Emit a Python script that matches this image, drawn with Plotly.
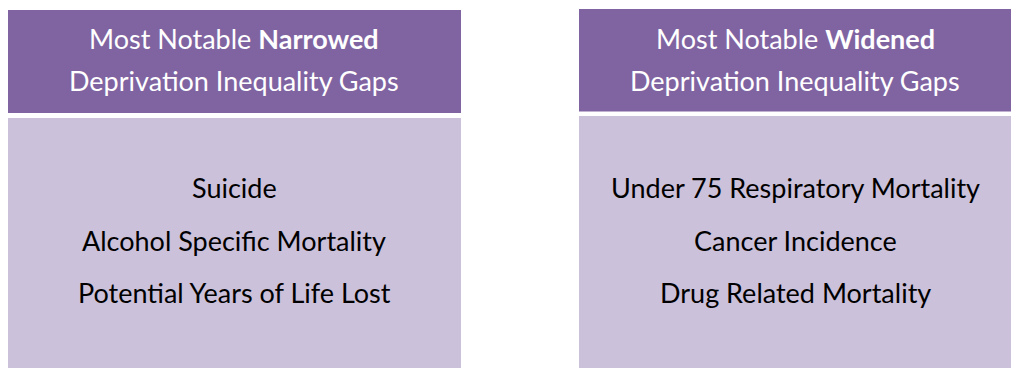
import plotly.graph_objects as go

W, H = 1020, 368
PAGE_MARGIN = 8  # browser default body margin, compensated so coords are page pixels

# Panel content
panel_titles_line1 = ["Most Notable <b>Narrowed</b>", "Most Notable <b>Widened</b>"]
panel_titles_line2 = ["Deprivation Inequality Gaps", "Deprivation Inequality Gaps"]
narrowed_items = ["Suicide", "Alcohol Specific Mortality", "Potential Years of Life Lost"]
widened_items = ["Under 75 Respiratory Mortality", "Cancer Incidence", "Drug Related Mortality"]
panel_items = [narrowed_items, widened_items]

# Layout geometry (page pixels)
panel_x = [(7, 461), (579, 1011)]
header_y = [(10, 113), (9, 111.5)]
body_top = [118, 116]
title_line_y = [38, 80]
item_y = [187, 240, 292]

HEADER_COLOR = "#8064A2"
BODY_COLOR = "#CCC1DA"
FONT = "Lato, 'Open Sans', sans-serif"
FS = 27

fig = go.Figure()
shapes = []
annotations = []
for i in range(2):
    x0, x1 = panel_x[i]
    cx = (x0 + x1) / 2
    shapes.append(dict(type="rect", xref="x", yref="y", x0=x0, x1=x1,
                       y0=header_y[i][0], y1=header_y[i][1],
                       fillcolor=HEADER_COLOR, line=dict(width=0), layer="below"))
    shapes.append(dict(type="rect", xref="x", yref="y", x0=x0, x1=x1,
                       y0=body_top[i], y1=H + 5,
                       fillcolor=BODY_COLOR, line=dict(width=0), layer="below"))
    for t, ty in zip([panel_titles_line1[i], panel_titles_line2[i]], title_line_y):
        annotations.append(dict(x=cx, y=ty, xref="x", yref="y", text=t,
                                showarrow=False, xanchor="center", yanchor="middle",
                                font=dict(family=FONT, size=FS, color="white")))
    for t, ty in zip(panel_items[i], item_y):
        annotations.append(dict(x=cx, y=ty, xref="x", yref="y", text=t,
                                showarrow=False, xanchor="center", yanchor="middle",
                                font=dict(family=FONT, size=FS, color="black")))

fig.update_layout(
    width=W - PAGE_MARGIN, height=H - PAGE_MARGIN,
    margin=dict(l=0, r=0, t=0, b=0),
    paper_bgcolor="white", plot_bgcolor="white",
    xaxis=dict(range=[PAGE_MARGIN, W], visible=False, fixedrange=True),
    yaxis=dict(range=[H, PAGE_MARGIN], visible=False, fixedrange=True),
    shapes=shapes, annotations=annotations, showlegend=False,
)
fig.write_html("out.html", config={"displayModeBar": False})
